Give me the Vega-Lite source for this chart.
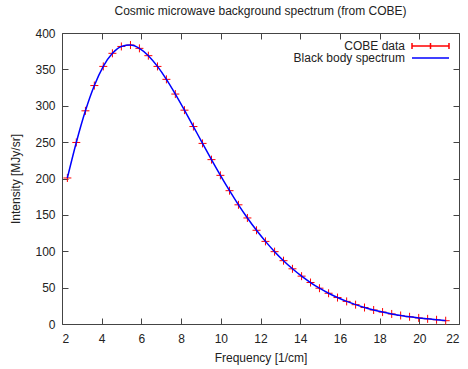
{
  "$schema": "https://vega.github.io/schema/vega-lite/v6.json",
  "width": 397,
  "height": 291,
  "autosize": "none",
  "padding": {"left": 62, "top": 33, "right": 9, "bottom": 45},
  "background": "white",
  "title": {"text": "Cosmic microwave background spectrum (from COBE)", "fontSize": 12, "font": "Liberation Sans", "fontWeight": "normal", "offset": 9, "anchor": "middle", "color": "#222222"},
  "config": {
    "view": {"stroke": "#444444", "strokeWidth": 1},
    "axis": {"domain": false, "grid": false, "tickColor": "#444444", "tickSize": -6, "labelFont": "Liberation Sans", "labelFontSize": 12, "labelColor": "#222222", "titleFont": "Liberation Sans", "titleFontSize": 12, "titleFontWeight": "normal", "titleColor": "#222222"}
  },
  "data": {"values": [
    {"freq": 2.27, "intensity": 200.723},
    {"freq": 2.72, "intensity": 249.508},
    {"freq": 3.18, "intensity": 293.024},
    {"freq": 3.63, "intensity": 327.770},
    {"freq": 4.08, "intensity": 354.081},
    {"freq": 4.54, "intensity": 372.079},
    {"freq": 4.99, "intensity": 381.493},
    {"freq": 5.45, "intensity": 383.478},
    {"freq": 5.90, "intensity": 378.901},
    {"freq": 6.35, "intensity": 368.833},
    {"freq": 6.81, "intensity": 354.063},
    {"freq": 7.26, "intensity": 336.278},
    {"freq": 7.71, "intensity": 316.076},
    {"freq": 8.17, "intensity": 293.924},
    {"freq": 8.62, "intensity": 271.432},
    {"freq": 9.08, "intensity": 248.239},
    {"freq": 9.53, "intensity": 225.940},
    {"freq": 9.98, "intensity": 204.327},
    {"freq": 10.44, "intensity": 183.262},
    {"freq": 10.89, "intensity": 163.830},
    {"freq": 11.34, "intensity": 145.750},
    {"freq": 11.80, "intensity": 128.835},
    {"freq": 12.25, "intensity": 113.568},
    {"freq": 12.71, "intensity": 99.451},
    {"freq": 13.16, "intensity": 87.036},
    {"freq": 13.61, "intensity": 75.876},
    {"freq": 14.07, "intensity": 65.766},
    {"freq": 14.52, "intensity": 57.008},
    {"freq": 14.97, "intensity": 49.223},
    {"freq": 15.43, "intensity": 42.267},
    {"freq": 15.88, "intensity": 36.352},
    {"freq": 16.34, "intensity": 31.062},
    {"freq": 16.79, "intensity": 26.580},
    {"freq": 17.24, "intensity": 22.644},
    {"freq": 17.70, "intensity": 19.255},
    {"freq": 18.15, "intensity": 16.391},
    {"freq": 18.61, "intensity": 13.811},
    {"freq": 19.06, "intensity": 11.716},
    {"freq": 19.51, "intensity": 9.921},
    {"freq": 19.97, "intensity": 8.364},
    {"freq": 20.42, "intensity": 7.087},
    {"freq": 20.87, "intensity": 5.801},
    {"freq": 21.33, "intensity": 4.523}
  ]},
  "layer": [
    {
      "mark": {"type": "point", "shape": "M-1,0H1M0,-1V1", "size": 64, "strokeWidth": 1, "filled": false, "opacity": 1},
      "encoding": {
        "x": {"field": "freq", "type": "quantitative", "scale": {"domain": [2, 22], "nice": false, "zero": false},
              "axis": {"orient": "bottom", "values": [2, 4, 6, 8, 10, 12, 14, 16, 18, 20, 22], "title": "Frequency [1/cm]", "labelPadding": 15, "titlePadding": 8}},
        "y": {"field": "intensity", "type": "quantitative", "scale": {"domain": [0, 400], "nice": false},
              "axis": {"orient": "left", "values": [0, 50, 100, 150, 200, 250, 300, 350, 400], "title": "Intensity [MJy/sr]", "labelPadding": 13, "titlePadding": 12}},
        "color": {"datum": "COBE data", "type": "nominal",
                  "scale": {"domain": ["COBE data", "Black body spectrum"], "range": ["#ff0000", "#0000ff"]},
                  "legend": {"title": null, "orient": "top-right", "offset": 7, "padding": 0, "labelAlign": "right", "labelOffset": -18, "symbolSize": 100, "symbolStrokeWidth": 1.5, "labelFont": "Liberation Sans", "labelFontSize": 12, "labelColor": "#222222", "rowPadding": -3,
                    "encoding": {"symbols": {"shape": {"value": {"expr": "datum.value === 'COBE data' ? 'M-1,0H6.4M-1,-0.6V0.6M2.7,-0.6V0.6M6.4,-0.6V0.6' : 'M-1,0H6.4'"}}, "fill": {"value": "transparent"}}}}}
      }
    },
    {
      "mark": {"type": "line", "interpolate": "monotone", "strokeWidth": 1.5},
      "encoding": {
        "x": {"field": "freq", "type": "quantitative", "scale": {"domain": [2, 22], "nice": false, "zero": false},
              "axis": {"orient": "top", "values": [2, 4, 6, 8, 10, 12, 14, 16, 18, 20, 22], "labels": false, "title": null}},
        "y": {"field": "intensity", "type": "quantitative", "scale": {"domain": [0, 400], "nice": false},
              "axis": {"orient": "right", "values": [0, 50, 100, 150, 200, 250, 300, 350, 400], "labels": false, "title": null}},
        "color": {"datum": "Black body spectrum", "type": "nominal"}
      }
    }
  ],
  "resolve": {"axis": {"x": "independent", "y": "independent"}}
}
